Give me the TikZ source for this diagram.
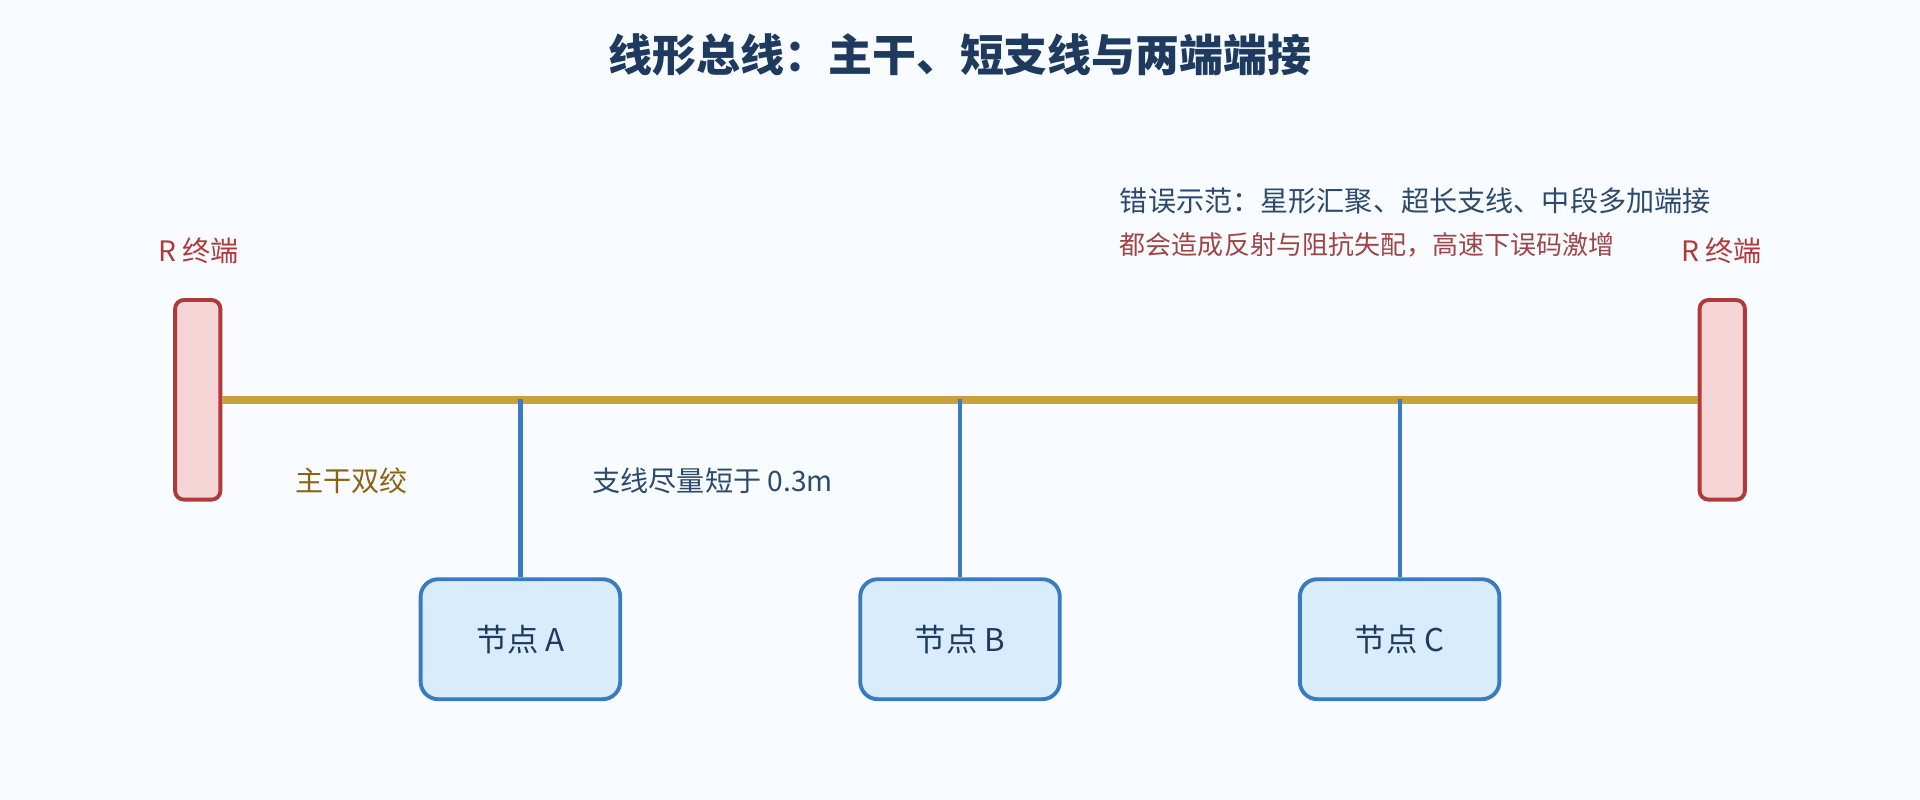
\documentclass[tikz,border=0pt]{standalone}
\usepackage{fontspec}
\setmainfont{Noto Sans CJK SC}
\definecolor{bg}{HTML}{F8FBFF}
\definecolor{navy}{HTML}{1E3A5F}
\definecolor{rred}{HTML}{B03A3A}
\definecolor{rfill}{HTML}{F5D5D5}
\definecolor{gold}{HTML}{C9A13C}
\definecolor{goldt}{HTML}{8A6410}
\definecolor{blu}{HTML}{3A7BBF}
\definecolor{bfill}{HTML}{D8ECFC}
\definecolor{warn}{HTML}{A04545}
\definecolor{txt}{HTML}{2C4A6E}
\begin{document}
\begin{tikzpicture}[x=0.012245cm,y=-0.012245cm,
 term/.style={draw=rred,fill=rfill,line width=1.1pt,rounded corners=2.5pt,minimum width=37*0.012245cm,minimum height=163*0.012245cm,inner sep=0},
 nd/.style={draw=blu,fill=bfill,line width=1.1pt,rounded corners=5pt,minimum width=163*0.012245cm,minimum height=98*0.012245cm,font=\fontsize{8.9pt}{10pt}\selectfont,text=navy},
 stub/.style={blu,line width=1.2pt},
 lbl/.style={font=\fontsize{8pt}{9pt}\selectfont}]
\fill[bg] (0,0) rectangle (1568,653);
\useasboundingbox (0,0) rectangle (1568,653);
\node[font=\fontsize{12.5pt}{14pt}\selectfont\bfseries,text=navy] (title) at (784,45) {线形总线：主干、短支线与两端端接};
\node[term] (tl) at (161.5,326.5) {};
\node[term] (tr) at (1406.5,326.5) {};
\draw[gold,line width=2.3pt] (tl.east) -- (tr.west);
\coordinate (ta) at (425,326); \coordinate (tb) at (784,326); \coordinate (tc) at (1143,326);
\node[nd] (a) at (425,522) {节点 A};
\node[nd] (b) at (784,522) {节点 B};
\node[nd] (c) at (1143,522) {节点 C};
\draw[stub] (ta) -- (a.north);
\draw[stub] (tb) -- (b.north);
\draw[stub] (tc) -- (c.north);
\node[lbl,text=rred] (rl) at (162,205) {R 终端};
\node[lbl,text=rred] (rr) at (1406,205) {R 终端};
\node[lbl,text=goldt] (zg) at (287,393) {主干双绞};
\node[lbl,text=txt] (zx) at (582,393) {支线尽量短于 0.3m};
\node[lbl,text=txt,anchor=west,inner sep=0] (w1) at (914,164) {错误示范：星形汇聚、超长支线、中段多加端接};
\node[lbl,text=warn,anchor=west,inner sep=0,font=\fontsize{7.4pt}{8pt}\selectfont] (w2) at (914,200) {都会造成反射与阻抗失配，高速下误码激增};
\end{tikzpicture}
\end{document}
